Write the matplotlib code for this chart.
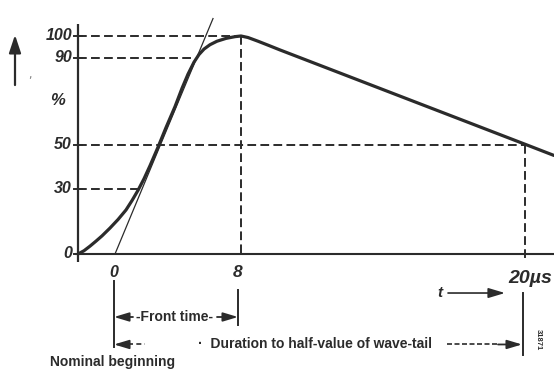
import matplotlib
matplotlib.use("Agg")
import matplotlib.pyplot as plt

# ---------------- data ----------------
# schematic time axis (arbitrary units along the drawing), amplitude in %
wave_x = [0, 6, 12, 18, 24, 32, 40, 48, 54, 60, 66, 72, 80, 88, 97, 104, 110, 116, 121,
          126, 132, 139, 148, 157, 163, 170, 180, 190, 202, 449, 476]
wave_y = [0, 1.5, 3.6, 5.9, 8.3, 11.9, 15.8, 20.2, 24.5, 29.2, 34.5, 40.5, 49, 58, 67.6,
          76, 82.5, 88, 91.5, 94, 96, 97.6, 98.9, 99.7, 100, 99.3, 97.6, 95.8, 93.6, 50, 45.2]

tangent_x = [37, 135]
tangent_y = [0, 108]

level_values = [100, 90, 50, 30]
level_ends = [163, 117, 449, 60]          # where each dashed level meets the curve
ytick_values = [100, 90, 50, 30, 0]
ytick_labels = ["100", "90", "50", "30", "0"]

peak_x = 163
half_x = 447
nominal_x = 36
front_x = 160
tail_x = 445
xtick_positions = [36, 160]
xtick_labels = ["0", "8"]

INK = "#2b2b2b"
fam_it = ["Liberation Sans Narrow", "Liberation Sans", "DejaVu Sans"]

fig = plt.figure(figsize=(5.54, 3.72), dpi=100)
ax = fig.add_axes([0, 0, 1, 1])
ax.set_xlim(-78, 476)
ax.set_ylim(-54.13, 116.51)
ax.axis("off")

# axes lines
ax.plot([0, 0], [-3.7, 105.5], color=INK, lw=1.6, solid_capstyle="butt")
ax.plot([-3, 476], [0, 0], color=INK, lw=1.5, solid_capstyle="butt")
for v in ytick_values:
    ax.plot([-4, 4], [v, v], color=INK, lw=1.4)

# dashed level lines
for v, xe in zip(level_values, level_ends):
    ax.plot([0, xe], [v, v], color=INK, lw=1.4, dashes=(4.5, 2.2))
ax.plot([peak_x, peak_x], [100, 0], color=INK, lw=1.4, dashes=(4.5, 2.2))
ax.plot([half_x, half_x], [50, -3], color=INK, lw=1.4, dashes=(4.5, 2.2))

# tangent line and wave
ax.plot(tangent_x, tangent_y, color=INK, lw=0.9)
ax.plot(wave_x, wave_y, color=INK, lw=2.3, solid_joinstyle="round", solid_capstyle="round")

# y tick labels
for v, lab in zip(ytick_values, ytick_labels):
    ax.text(-6, v, lab, ha="right", va="center", fontsize=11.5, fontstyle="italic",
            fontweight="bold", family=fam_it, color=INK)
ax.text(-20.5, 70.6, "%", ha="center", va="center", fontsize=12, fontstyle="italic",
        fontweight="bold", family=fam_it, color=INK)
ax.text(-48, 82.1, ",", ha="center", va="center", fontsize=8, color="#777777")

# upward arrow
ax.annotate("", xy=(-63, 100.5), xytext=(-63, 77.5),
            arrowprops=dict(arrowstyle="-|>,head_length=0.9,head_width=0.3", lw=1.6,
                            color=INK, shrinkA=0, shrinkB=0, mutation_scale=12))

# x tick labels
for xp, lab in zip(xtick_positions, xtick_labels):
    ax.text(xp, -8.6, lab, ha="center", va="center",
            fontsize=12.5 if lab == "8" else 11.5, fontstyle="italic",
            fontweight="bold", family=fam_it, color=INK)
ax.text(430, -13.3, "20µs", ha="left", va="baseline", fontsize=14, fontstyle="italic",
        fontweight="bold", family=fam_it, color=INK)

# t ---> arrow
ax.text(362, -17.9, "t", ha="center", va="center", fontsize=11, fontstyle="italic",
        fontweight="bold", family=fam_it, color=INK)
ax.annotate("", xy=(427, -17.9), xytext=(370, -17.9),
            arrowprops=dict(arrowstyle="-|>,head_length=1.0,head_width=0.3", lw=1.2,
                            color=INK, shrinkA=0, shrinkB=0, mutation_scale=10))

# dimension bars
ax.plot([nominal_x, nominal_x], [-12.4, -42.7], color=INK, lw=1.4)
ax.plot([front_x, front_x], [-16.5, -32.6], color=INK, lw=1.4)
ax.plot([tail_x, tail_x], [-17.9, -46.3], color=INK, lw=1.4)

arr = dict(arrowstyle="-|>,head_length=1.0,head_width=0.3", lw=1.3, color=INK,
           shrinkA=0, shrinkB=0, mutation_scale=9)
# front time
y_ft = -28.9
ax.annotate("", xy=(nominal_x, y_ft), xytext=(55, y_ft), arrowprops=arr)
ax.text(96, y_ft, "-Front time-", ha="center", va="center", fontsize=10, fontweight="bold",
        family=fam_it, color=INK)
ax.annotate("", xy=(front_x, y_ft), xytext=(139, y_ft), arrowprops=arr)

# duration to half value
y_d = -41.5
ax.annotate("", xy=(nominal_x, y_d), xytext=(50, y_d), arrowprops=arr)
ax.plot([50, 67], [y_d, y_d], color=INK, lw=1.2, dashes=(3, 2))
ax.text(354, y_d, "·  Duration to half-value of wave-tail", ha="right", va="center",
        fontsize=10, fontweight="bold", family=fam_it, color=INK)
ax.plot([369, 420], [y_d, y_d], color=INK, lw=1.2, dashes=(3, 1.5))
ax.annotate("", xy=(tail_x - 1, y_d), xytext=(420, y_d), arrowprops=arr)

ax.text(35, -49.5, "Nominal beginning", ha="center", va="center", fontsize=10,
        fontweight="bold", family=fam_it, color=INK)
ax.text(460, -39.4, "31871", ha="center", va="center", fontsize=5.5, rotation=270,
        fontweight="bold", family=fam_it, color=INK)

fig.savefig("out.png", dpi=100, facecolor="white")
